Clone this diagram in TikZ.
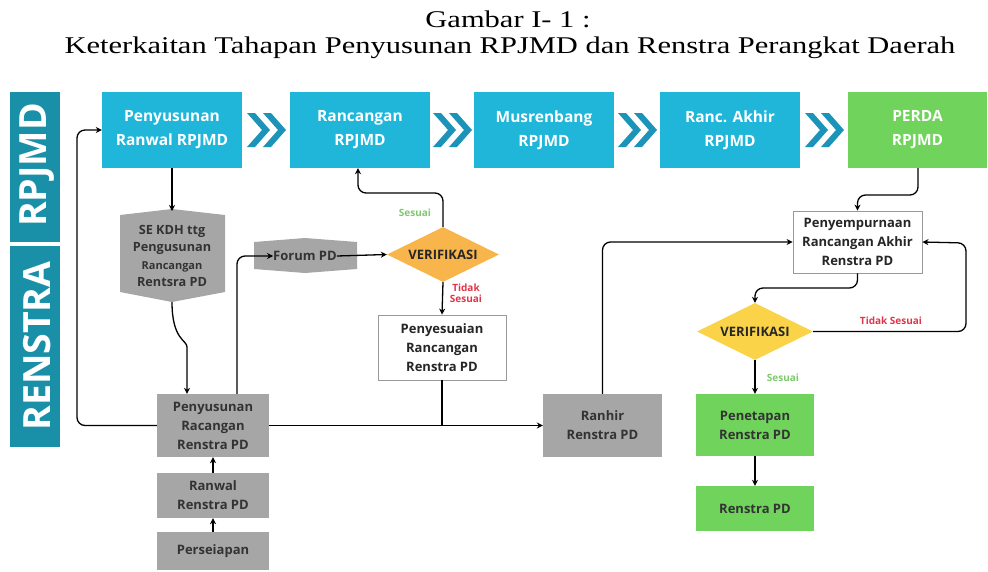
\documentclass[tikz,border=0pt]{standalone}
\usepackage{fontspec}
\setmainfont{Liberation Serif}
\newfontfamily\boxfont{Open Sans}
\usetikzlibrary{arrows.meta,shapes.geometric}
\definecolor{cyanb}{HTML}{1FB6DA}
\definecolor{tealb}{HTML}{1A8FA8}
\definecolor{chev}{HTML}{1C93B8}
\definecolor{greenb}{HTML}{6FD35C}
\definecolor{grayb}{HTML}{A6A6A6}
\definecolor{orangeb}{HTML}{F8B54C}
\definecolor{yellowb}{HTML}{FAD348}
\definecolor{sesuaig}{HTML}{7CC96A}
\definecolor{tidakr}{HTML}{E0344A}
\tikzset{
  every node/.style={font=\boxfont\bfseries\fontsize{13}{19}\selectfont, align=center, inner sep=0pt},
  topbox/.style={fill=cyanb, text=white, minimum width=140pt, minimum height=76pt, font=\boxfont\bfseries\fontsize{15.5}{24}\selectfont},
  greentop/.style={topbox, fill=greenb},
  graybox/.style={fill=grayb, text=black!80, minimum width=112pt},
  whitebox/.style={draw=gray!80, fill=white, text=black!85, line width=0.8pt},
  greenbox/.style={fill=greenb, text=black!80, minimum width=118pt},
  conn/.style={-{Stealth[length=6pt,width=6pt]}, line width=1.3pt, rounded corners=8pt},
  plain/.style={line width=1.3pt, rounded corners=8pt},
  lblg/.style={text=sesuaig, font=\boxfont\bfseries\fontsize{10}{11}\selectfont},
  lblr/.style={text=tidakr, font=\boxfont\bfseries\fontsize{10}{11}\selectfont},
  sidebar/.style={fill=tealb, minimum width=50pt},
  sidetext/.style={text=white, rotate=90, font=\boxfont\bfseries\fontsize{37.5}{40}\selectfont},
  diamtext/.style={font=\boxfont\bfseries\fontsize{13}{14}\selectfont, text=black!85},
  pics/chevrons/.style={code={
    \fill[chev] (-19,-17) -- (-11,-17) -- (4,0) -- (-11,17) -- (-19,17) -- (-4,0) -- cycle;
    \fill[chev] (-3,-17) -- (5,-17) -- (20,0) -- (5,17) -- (-3,17) -- (12,0) -- cycle;
  }}
}
\begin{document}
\begin{tikzpicture}[x=1pt,y=-1pt]
\useasboundingbox (0,0) rectangle (988,571);
% title
\node[font=\fontsize{24}{26}\selectfont] (t1) at (508,19) {\scalebox{1.27}[1]{Gambar I- 1 :}};
\node[font=\fontsize{24}{26}\selectfont] (t2) at (510,48) {\scalebox{1.27}[1]{Keterkaitan Tahapan Penyusunan RPJMD dan Renstra Perangkat Daerah}};
% side bars
\node[sidebar, minimum height=150pt] (srp) at (35,167) {};
\node[sidetext] (srpt) at (37,165) {RPJMD};
\node[sidebar, minimum height=201pt] (sre) at (35,346.5) {};
\node[sidetext] (sret) at (37,346) {RENSTRA};
% top row
\node[topbox] (b1) at (172,130) {Penyusunan\\Ranwal RPJMD};
\node[topbox] (b2) at (360,130) {Rancangan\\RPJMD};
\node[topbox] (b3) at (544,130) {Musrenbang\\RPJMD};
\node[topbox] (b4) at (730,130) {Ranc. Akhir\\RPJMD};
\node[greentop, minimum width=139pt] (b5) at (917.5,130) {PERDA\\RPJMD};
\pic at (266,130) {chevrons};
\pic at (452,130) {chevrons};
\pic at (637,130) {chevrons};
\pic at (824,130) {chevrons};
% SE KDH shape
\fill[grayb] (120,215) -- (172,209) -- (225,215) -- (225,292) -- (172,302) -- (120,292) -- cycle;
\node[text=black!80, font=\boxfont\bfseries\fontsize{12.7}{17.5}\selectfont] (se) at (172,256) {SE KDH ttg\\Pengusunan\\{\fontsize{11}{17.5}\selectfont Rancangan}\\Rentsra PD};
% Forum PD
\fill[grayb] (254,242) -- (305,238) -- (357,242) -- (357,269) -- (305,273) -- (254,269) -- cycle;
\node[text=black!80] (forum) at (305,256) {Forum PD};
% verifikasi 1
\node[diamond, fill=orangeb, minimum width=112pt, minimum height=55pt, aspect=2, diamtext] (v1) at (443,254.5) {};
\node[diamtext] (v1t) at (443,254.5) {VERIFIKASI};
% penyesuaian
\node[whitebox, minimum width=128pt, minimum height=65pt] (pes) at (442,347.5) {Penyesuaian\\Rancangan\\Renstra PD};
% renstra column
\node[graybox, minimum height=63pt] (prr) at (213,425.5) {Penyusunan\\Racangan\\Renstra PD};
\node[graybox, minimum height=45pt] (rr) at (213,495.5) {Ranwal\\Renstra PD};
\node[graybox, minimum height=38pt] (pers) at (213,551) {Perseiapan};
\node[graybox, minimum width=119pt, minimum height=63pt] (ranhir) at (602.5,425.5) {Ranhir\\Renstra PD};
% right side
\node[whitebox, minimum width=129pt, minimum height=62pt] (pem) at (857.5,242) {Penyempurnaan\\Rancangan Akhir\\Renstra PD};
\node[diamond, fill=yellowb, minimum width=116pt, minimum height=57pt, aspect=2] (v2) at (755,331.5) {};
\node[diamtext] (v2t) at (755,331.5) {VERIFIKASI};
\node[greenbox, minimum height=62pt] (pen) at (755,425) {Penetapan\\Renstra PD};
\node[greenbox, minimum height=45pt] (ren) at (755,508.5) {Renstra PD};
% labels
\node[lblg] (s1) at (415,213) {Sesuai};
\node[lblr] (td1) at (466,293) {Tidak\\Sesuai};
\node[lblr] (td2) at (891,321) {Tidak Sesuai};
\node[lblg] (s2) at (783,378) {Sesuai};
% connectors
\draw[conn] (b1.south) -- (se.north |- 0,211);
\draw[conn] (172,302) .. controls (172,340) and (187,340) .. (187,355) -- (prr.north -| 187,0);
\draw[conn] (prr.north -| 237,0) |- (forum.west);
\draw[conn] (forum.east) -- (v1.west);
\draw[conn] (v1.north) |- (400,193) -| (b2.south -| 358,0);
\draw[conn] (v1.south) -- (pes.north);
\draw[plain] (pes.south) -- (442,425.5);
\draw[conn] (prr.west) -| (77,130) -- (b1.west);
\draw[conn] (prr.east) -- (ranhir.west);
\draw[conn] (ranhir.north) |- (pem.west);
\draw[conn] (b5.south -| 918,0) |- (880,195) -| (pem.north);
\draw[conn] (pem.south) |- (800,288) -| (v2.north);
\draw[conn] (v2.east) -| (966,243) -- (pem.east);
\draw[conn] (v2.south) -- (pen.north);
\draw[conn] (pen.south) -- (ren.north);
\draw[conn] (rr.north) -- (prr.south);
\draw[conn] (pers.north) -- (rr.south);
\end{tikzpicture}
\end{document}
